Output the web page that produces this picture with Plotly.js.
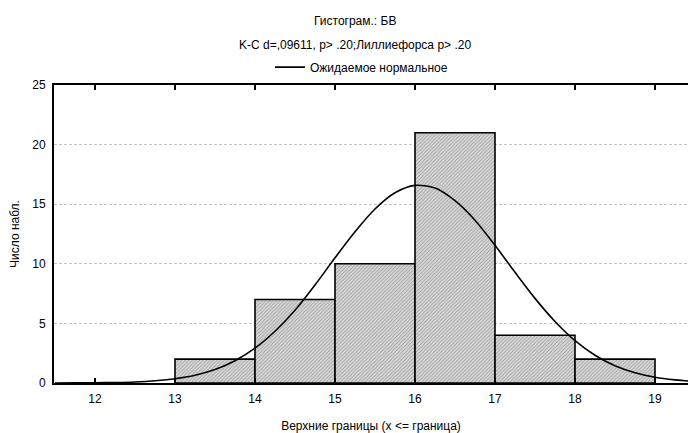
<!DOCTYPE html>
<html>
<head>
<meta charset="utf-8">
<script src="https://cdn.plot.ly/plotly-3.0.1.min.js"></script>
<style>html,body{margin:0;padding:0;background:#fff;}#chart{width:688px;height:433px;}</style>
</head>
<body>
<div id="chart"></div>
<script>
// Histogram: upper bin boundaries and counts
const binUpper = [14, 15, 16, 17, 18, 19];
const counts = [2, 7, 10, 21, 4, 2];
// Expected normal curve
const curveX = [11.5, 11.75, 12, 12.25, 12.5, 12.75, 13, 13.25, 13.5, 13.75, 14, 14.25, 14.5, 14.75, 15, 15.25, 15.5, 15.75, 16, 16.25, 16.5, 16.75, 17, 17.25, 17.5, 17.75, 18, 18.25, 18.5, 18.75, 19, 19.25, 19.5, 19.75];
const curveY = [0.003, 0.008, 0.02, 0.043, 0.09, 0.19, 0.36, 0.65, 1.13, 1.87, 2.92, 4.34, 6.1, 8.22, 10.5, 12.69, 14.6, 15.96, 16.58, 16.36, 15.3, 13.66, 11.55, 9.29, 7.1, 5.16, 3.55, 2.33, 1.45, 0.86, 0.48, 0.26, 0.13, 0.063];
const xTicks = [12, 13, 14, 15, 16, 17, 18, 19];
const yTicks = [0, 5, 10, 15, 20, 25];

const titleLine1 = "Гистограм.: БВ";
const titleLine2 = "K-C d=,09611, p> .20;Лиллиефорса p> .20";
const legendName = "Ожидаемое нормальное";
const xTitle = "Верхние границы (x <= граница)";
const yTitle = "Число набл.";

const FONT = "Liberation Sans, Arial, sans-serif";

const traces = [
  {
    type: "bar",
    x: binUpper,
    y: counts,
    width: 1,
    offset: -1,
    showlegend: false,
    hoverinfo: "skip",
    marker: {
      color: "#cfcfcf",
      line: {color: "#000", width: 1.6},
      pattern: {shape: "/", bgcolor: "#d2d2d2", fgcolor: "#a0a0a0", size: 2.5, solidity: 0.35}
    }
  },
  {
    type: "scatter",
    mode: "lines",
    x: curveX,
    y: curveY,
    name: legendName,
    line: {color: "#000", width: 1.6, shape: "spline", smoothing: 0.8}
  }
];

const layout = {
  width: 688,
  height: 433,
  margin: {l: 54, r: 0, t: 85, b: 50},
  paper_bgcolor: "#fff",
  plot_bgcolor: "#fff",
  font: {family: FONT, size: 12, color: "#000"},
  bargap: 0,
  showlegend: true,
  legend: {
    orientation: "h",
    x: 0.485, xanchor: "center",
    y: 1.06, yanchor: "middle",
    font: {family: FONT, size: 12, color: "#000"},
    bgcolor: "rgba(0,0,0,0)",
    itemwidth: 30
  },
  xaxis: {
    range: [11.4875, 19.4125],
    tickvals: xTicks,
    ticktext: xTicks.map(String),
    ticks: "inside",
    ticklen: 5,
    tickwidth: 1.5,
    tickcolor: "#000",
    showline: true,
    linecolor: "#000",
    linewidth: 2,
    mirror: "ticks",
    showgrid: false,
    zeroline: false,
    ticklabelstandoff: 4,
    tickfont: {family: FONT, size: 12},
    title: {text: xTitle, font: {family: FONT, size: 12}, standoff: 16}
  },
  yaxis: {
    range: [0, 25],
    tickvals: yTicks,
    ticks: "",
    showline: true,
    linecolor: "#000",
    linewidth: 2,
    mirror: false,
    showgrid: true,
    gridcolor: "#c4c4c4",
    gridwidth: 1,
    griddash: "3px,2px",
    zeroline: false,
    ticklabelstandoff: 4,
    tickfont: {family: FONT, size: 12},
    title: {text: yTitle, font: {family: FONT, size: 12}, standoff: 10}
  },
  annotations: [
    {text: titleLine1, xref: "paper", yref: "paper", x: 0.475, y: 1.215, xanchor: "center", yanchor: "middle", showarrow: false, font: {family: FONT, size: 12}},
    {text: titleLine2, xref: "paper", yref: "paper", x: 0.475, y: 1.134, xanchor: "center", yanchor: "middle", showarrow: false, font: {family: FONT, size: 12}}
  ]
};

Plotly.newPlot("chart", traces, layout, {displayModeBar: false, staticPlot: true});
</script>
</body>
</html>
